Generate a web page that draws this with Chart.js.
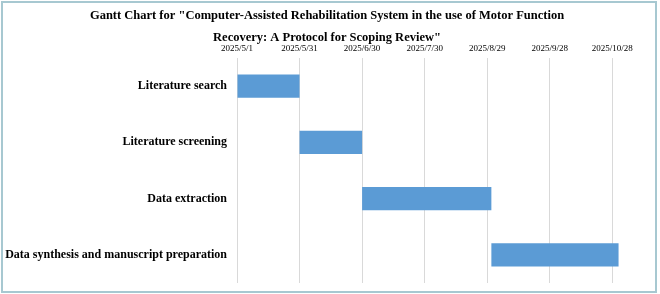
<!DOCTYPE html>
<html>
<head>
<meta charset="utf-8">
<script src="https://cdn.jsdelivr.net/npm/chart.js@4"></script>
<style>
  html, body { margin: 0; background: #fff; }
  #wrap { position: relative; width: 660px; height: 294px; }
  #frame { position: absolute; left: 1px; top: 1px; width: 656px; height: 292px; box-sizing: border-box; border: 2px solid #a7c8d1; pointer-events: none; }
</style>
</head>
<body>
<div id="wrap">
  <canvas id="chart" width="660" height="294"></canvas>
  <div id="frame"></div>
</div>
<script>
// task names and their planned periods
const tasks = ["Literature search", "Literature screening", "Data extraction", "Data synthesis and manuscript preparation"];
const startDates = ["2025/5/1", "2025/5/31", "2025/6/30", "2025/8/31"];
const endDates = ["2025/5/31", "2025/6/30", "2025/8/31", "2025/10/31"];
// date labels along the top axis
const tickLabels = ["2025/5/1", "2025/5/31", "2025/6/30", "2025/7/30", "2025/8/29", "2025/9/28", "2025/10/28"];
const titleLines = ['Gantt Chart for "Computer-Assisted Rehabilitation System in the use of Motor Function', 'Recovery: A Protocol for Scoping Review"'];

// day number counted from the first tick date
const toDay = (s) => {
  const [y, m, d] = s.split("/").map(Number);
  return Math.round((Date.UTC(y, m - 1, d) - Date.UTC(2025, 4, 1)) / 86400000);
};
const tickDays = tickLabels.map(toDay);
const spans = startDates.map((s, i) => [toDay(s), toDay(endDates[i])]);

const serif = '"Liberation Serif", "Times New Roman", serif';

new Chart(document.getElementById("chart"), {
  type: "bar",
  data: {
    labels: tasks,
    datasets: [{
      data: spans,
      backgroundColor: "#5b9bd5",
      borderWidth: 0,
      categoryPercentage: 1,
      barPercentage: 0.41
    }]
  },
  options: {
    indexAxis: "y",
    responsive: false,
    animation: false,
    layout: { padding: { left: 0, right: 6, top: 0, bottom: 11 } },
    plugins: {
      legend: { display: false },
      tooltip: { enabled: false },
      title: {
        display: true,
        text: titleLines,
        color: "#000",
        font: { family: serif, size: 12.5, weight: "bold", lineHeight: 1.76 },
        // negative bottom padding leaves room for the date labels just under the title
        padding: { top: 5, bottom: -6 }
      }
    },
    scales: {
      x: {
        type: "linear",
        position: "top",
        min: 0,
        max: 200,
        afterBuildTicks: (s) => { s.ticks = tickDays.map(v => ({ value: v })); },
        afterFit: (s) => { s.height = 15; },
        ticks: {
          color: "#000",
          padding: 4,
          font: { family: serif, size: 9 },
          callback: (v, i) => tickLabels[i]
        },
        grid: { color: "#d9d9d9", drawTicks: false },
        border: { display: false }
      },
      y: {
        afterFit: (s) => { s.width = 237; s.paddingTop = 0; s.paddingBottom = 0; },
        ticks: {
          color: "#000",
          padding: 10,
          font: { family: serif, size: 12, weight: "bold" }
        },
        grid: { display: false, drawTicks: false },
        border: { display: false }
      }
    }
  }
});
</script>
</body>
</html>
